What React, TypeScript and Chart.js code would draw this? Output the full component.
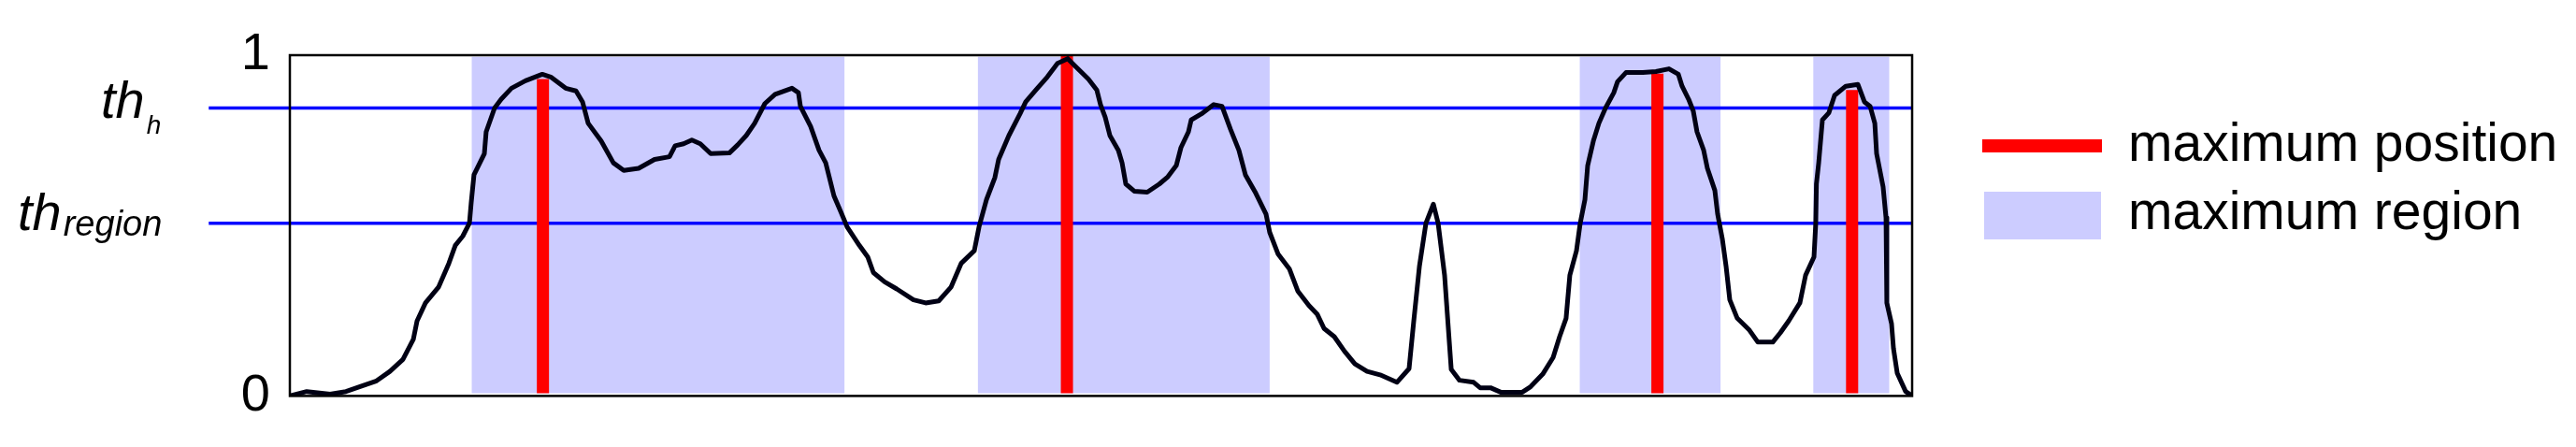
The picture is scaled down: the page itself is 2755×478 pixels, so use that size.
import React, { useEffect, useRef } from "react";
import { Chart, registerables } from "chart.js";

Chart.register(...registerables);

// Signal profile: position along the profile (0..1000) and normalised response (0..1)
const positions = [
  0, 10.4, 24.8, 34.6, 45, 53, 61.7, 69.7, 76.1, 78.4,
  83.6, 91.6, 98, 102, 106.6, 110.7, 111.8, 113.5, 119.9, 121,
  126.2, 130.3, 136.6, 145.2, 155.6, 160.8, 170, 176.4, 180.4, 183.9,
  191.9, 199.4, 205.8, 215, 224.8, 234, 237.5, 242.7, 247.8, 253,
  259.4, 270.9, 276.1, 281.3, 286.5, 292.8, 299.1, 309.5, 313.5, 314.7,
  321, 326.2, 330.3, 335.4, 339.5, 343.5, 351, 356.2, 359.7, 366.6,
  374.1, 384.4, 391.9, 400, 407.5, 413.8, 421.9, 424.8, 429.4, 434.6,
  436.9, 443.2, 450.1, 453.6, 459.9, 466.9, 473.2, 479.5, 484.7, 492.2,
  497.4, 499.7, 502.6, 505.5, 510.7, 513, 515.3, 520.5, 528.5, 536,
  541.2, 546.4, 549.3, 553.9, 555.6, 562, 569.5, 574.6, 579.8, 585,
  589, 595.4, 601.7, 604, 609.2, 616.1, 621.3, 628.2, 633.4, 637.5,
  643.8, 650.1, 656.5, 664, 672, 682.4, 689.9, 692.8, 696.3, 700.3,
  704.9, 707.8, 711.8, 715.9, 721, 729.7, 733.7, 740.1, 746.4, 759.7,
  764.8, 772.3, 778.7, 782.7, 786.7, 789, 793.1, 795.4, 798.3, 800,
  803.5, 806.9, 811, 816.1, 818.4, 823.6, 834, 842.1, 850.1, 855.9,
  858.2, 862.2, 865.1, 867.4, 871.5, 873.8, 878.4, 880.1, 883, 885.3,
  887.6, 892.2, 899.7, 904.9, 914.1, 918.7, 923.9, 930.8, 934.3, 939.5,
  940.6, 941, 942.4, 944.7, 948.7, 952.2, 959.1, 966.6, 970.6, 974.1,
  977, 978.1, 982.1, 983.9, 984.4, 987.3, 988.5, 990.8, 996, 1000,
];

const signal = [
  0, 0.013, 0.005, 0.013, 0.03, 0.043, 0.072, 0.107, 0.166, 0.22,
  0.273, 0.319, 0.389, 0.442, 0.469, 0.507, 0.568, 0.649, 0.711, 0.775,
  0.845, 0.871, 0.903, 0.925, 0.944, 0.936, 0.903, 0.895, 0.863, 0.8,
  0.748, 0.684, 0.662, 0.668, 0.694, 0.702, 0.734, 0.74, 0.751, 0.74,
  0.711, 0.713, 0.737, 0.764, 0.8, 0.858, 0.885, 0.903, 0.89, 0.85,
  0.791, 0.721, 0.684, 0.587, 0.542, 0.496, 0.442, 0.408, 0.362, 0.335,
  0.314, 0.282, 0.273, 0.279, 0.319, 0.389, 0.426, 0.496, 0.576, 0.641,
  0.694, 0.764, 0.828, 0.863, 0.898, 0.936, 0.976, 0.99, 0.965, 0.93,
  0.898, 0.855, 0.818, 0.764, 0.721, 0.684, 0.622, 0.601, 0.598, 0.622,
  0.643, 0.676, 0.729, 0.775, 0.81, 0.828, 0.855, 0.85, 0.783, 0.721,
  0.649, 0.595, 0.534, 0.48, 0.416, 0.373, 0.308, 0.265, 0.239, 0.198,
  0.174, 0.131, 0.094, 0.072, 0.062, 0.04, 0.08, 0.22, 0.381, 0.507,
  0.563, 0.507, 0.354, 0.078, 0.046, 0.04, 0.024, 0.024, 0.011, 0.011,
  0.027, 0.064, 0.113, 0.174, 0.228, 0.354, 0.426, 0.507, 0.576, 0.676,
  0.748, 0.8, 0.845, 0.89, 0.922, 0.949, 0.949, 0.952, 0.96, 0.944,
  0.909, 0.871, 0.836, 0.775, 0.721, 0.668, 0.603, 0.534, 0.461, 0.381,
  0.282, 0.228, 0.193, 0.158, 0.158, 0.185, 0.22, 0.273, 0.354, 0.408,
  0.507, 0.622, 0.684, 0.81, 0.831, 0.882, 0.909, 0.914, 0.863, 0.85,
  0.8, 0.711, 0.614, 0.523, 0.273, 0.212, 0.139, 0.067, 0.013, 0,
];

// Maximum regions (start / end positions)
const regionStarts = [112, 424, 795, 939];
const regionEnds = [342, 604, 882, 986];

// Maximum positions and their values
const maxPositions = [156, 479, 843, 963];
const maxValues = [0.93, 1.0, 0.946, 0.898];

// Thresholds
const TH_H = 0.845;
const TH_REGION = 0.507;
const thresholdSpan = [-50, 1000];

const yTicks = [0, 1];
const legendLabels = ["maximum position", "maximum region"];

const FONT = '"Liberation Sans", Arial, Helvetica, sans-serif';
const RED = "#ff0000";
const REGION = "#ccccff";
const BLUE = "#0000ff";
const CURVE = "#000014";

const framePlugin = {
  id: "frame",
  afterDatasetsDraw(chart: any) {
    const { ctx, chartArea } = chart;
    ctx.save();
    ctx.strokeStyle = "#000";
    ctx.lineWidth = 2.5;
    ctx.strokeRect(chartArea.left, chartArea.top, chartArea.right - chartArea.left, chartArea.bottom - chartArea.top);
    ctx.restore();
  },
};

const thresholdLabels = {
  id: "thresholdLabels",
  afterDraw(chart: any) {
    const { ctx } = chart;
    const y = chart.scales.y;
    const yh = y.getPixelForValue(TH_H);
    const yr = y.getPixelForValue(TH_REGION);
    ctx.save();
    ctx.fillStyle = "#000";
    ctx.textAlign = "left";
    ctx.textBaseline = "alphabetic";
    // th_h
    ctx.font = `italic 56px ${FONT}`;
    ctx.fillText("th", 108, yh + 11);
    const w1 = ctx.measureText("th").width;
    ctx.font = `italic 28px ${FONT}`;
    ctx.fillText("h", 108 + w1 + 2, yh + 28);
    // th_region
    ctx.font = `italic 56px ${FONT}`;
    ctx.fillText("th", 19, yr + 7);
    const w2 = ctx.measureText("th").width;
    ctx.font = `italic 38px ${FONT}`;
    ctx.fillText("region", 19 + w2 + 2, yr + 13);
    ctx.restore();
  },
};

export default function App() {
  const canvasRef = useRef<HTMLCanvasElement | null>(null);

  useEffect(() => {
    if (!canvasRef.current) return;

    const curve = {
      type: "line",
      data: positions.map((x, i) => ({ x, y: signal[i] })),
      borderColor: CURVE,
      borderWidth: 5,
      borderJoinStyle: "round",
      borderCapStyle: "round",
      pointRadius: 0,
      tension: 0,
      fill: false,
      order: 0,
    };

    const bars = maxPositions.map((p, i) => ({
      type: "line",
      data: [
        { x: p, y: 0.008 },
        { x: p, y: maxValues[i] },
      ],
      borderColor: RED,
      borderWidth: 13,
      borderCapStyle: "butt",
      pointRadius: 0,
      fill: false,
      order: 1,
    }));

    const thresholds = [TH_H, TH_REGION].map((t) => ({
      type: "line",
      data: thresholdSpan.map((x) => ({ x, y: t })),
      borderColor: BLUE,
      borderWidth: 3.5,
      pointRadius: 0,
      fill: false,
      clip: false,
      order: 2,
    }));

    const regions = regionStarts.map((s, i) => ({
      type: "line",
      data: [
        { x: s, y: 0.995 },
        { x: regionEnds[i], y: 0.995 },
      ],
      borderWidth: 0,
      borderColor: "rgba(0,0,0,0)",
      backgroundColor: REGION,
      pointRadius: 0,
      fill: { value: 0.008 },
      order: 3,
    }));

    const chart = new Chart(canvasRef.current, {
      type: "line",
      data: { datasets: [curve, ...bars, ...thresholds, ...regions] as any },
      options: {
        animation: false,
        responsive: false,
        devicePixelRatio: 1,
        events: [],
        layout: { padding: { left: 0, top: 59, right: 710, bottom: 46 } },
        plugins: { legend: { display: false }, tooltip: { enabled: false } },
        scales: {
          x: { type: "linear", min: 0, max: 1000, display: false },
          y: {
            type: "linear",
            min: 0,
            max: 1,
            afterBuildTicks: (scale: any) => {
              scale.ticks = yTicks.map((v) => ({ value: v }));
            },
            afterFit: (scale: any) => {
              scale.width = 310;
            },
            ticks: {
              color: "#000",
              padding: 21,
              font: { size: 56, family: FONT },
            },
            grid: { display: false, drawTicks: false },
            border: { display: false },
          },
        },
      } as any,
      plugins: [framePlugin, thresholdLabels],
    });

    return () => chart.destroy();
  }, []);

  const legendText: React.CSSProperties = {
    position: "absolute",
    left: 2276,
    fontFamily: FONT,
    fontSize: 57,
    lineHeight: "57px",
    whiteSpace: "nowrap",
    color: "#000",
  };

  return (
    <div style={{ position: "absolute", left: 0, top: 0, width: 2755, height: 478, background: "#fff" }}>
      <canvas ref={canvasRef} width={2755} height={478} style={{ display: "block" }} />
      <div style={{ position: "absolute", left: 2120, top: 149, width: 128, height: 14, background: RED }} />
      <div style={{ ...legendText, top: 124 }}>{legendLabels[0]}</div>
      <div style={{ position: "absolute", left: 2122, top: 205, width: 125, height: 51, background: REGION }} />
      <div style={{ ...legendText, top: 197 }}>{legendLabels[1]}</div>
    </div>
  );
}
